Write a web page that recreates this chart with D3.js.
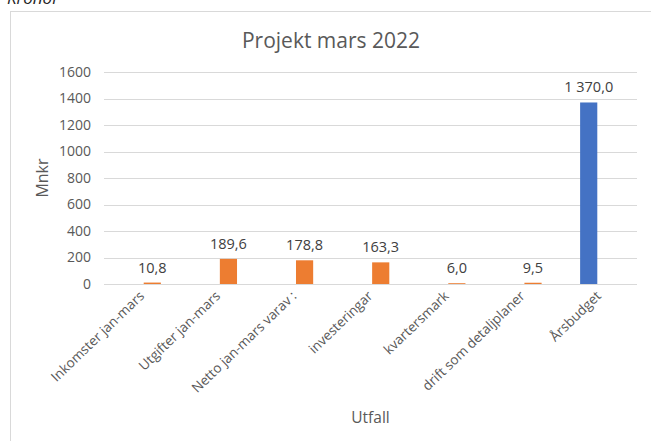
<!DOCTYPE html>
<html>
<head>
<meta charset="utf-8">
<script src="https://cdn.jsdelivr.net/npm/d3@7"></script>
<style>
  body { margin: 0; background: #fff; }
  text { font-family: "Open Sans", "Noto Sans", sans-serif; }
</style>
</head>
<body>
<div id="chart"></div>
<script>
const categories = ['Inkomster jan-mars', 'Utgifter jan-mars', 'Netto jan-mars varav :',
  'investeringar', 'kvartersmark', 'drift som detaljplaner', 'Årsbudget'];
const values = [10.8, 189.6, 178.8, 163.3, 6.0, 9.5, 1370.0];
// which series each bar belongs to (Excel put them in two series)
const seriesOf = ['utfall', 'utfall', 'utfall', 'utfall', 'utfall', 'utfall', 'budget'];
const seriesNames = ['budget', 'utfall'];
const seriesColors = { budget: '#4472C4', utfall: '#ED7D31' };
const yTicks = [0, 200, 400, 600, 800, 1000, 1200, 1400, 1600];

const width = 651;
const height = 441;
const plot = { left: 104, right: 637, top: 72, bottom: 284 };

const svg = d3.select('#chart').append('svg')
  .attr('width', width)
  .attr('height', height);

// Italic header above the chart, mostly cut off
svg.append('text')
  .attr('x', 7)
  .attr('y', 4)
  .attr('font-size', 17)
  .attr('font-style', 'italic')
  .attr('fill', '#262626')
  .text('Kronor');

// chart frame
svg.append('rect')
  .attr('x', 10.5)
  .attr('y', 11.5)
  .attr('width', 700)
  .attr('height', 500)
  .attr('fill', 'none')
  .attr('stroke', '#d9d9d9');

const x = d3.scaleBand()
  .domain(categories)
  .range([plot.left, plot.right]);

const xSub = d3.scaleBand()
  .domain(seriesNames)
  .range([x.bandwidth() * 0.21, x.bandwidth() * 0.79])
  .padding(0.16);

const y = d3.scaleLinear()
  .domain([0, 1600])
  .range([plot.bottom, plot.top]);

// gridlines
svg.append('g')
  .selectAll('line')
  .data(yTicks)
  .enter()
  .append('line')
    .attr('x1', plot.left)
    .attr('x2', plot.right)
    .attr('y1', d => Math.round(y(d)) + 0.5)
    .attr('y2', d => Math.round(y(d)) + 0.5)
    .attr('stroke', '#d9d9d9');

// y axis labels
const yAxis = svg.append('g')
  .attr('transform', `translate(${plot.left - 13},0)`)
  .call(d3.axisLeft(y).tickValues(yTicks).tickFormat(d3.format('d')).tickSize(0).tickPadding(0));
yAxis.select('.domain').remove();
yAxis.selectAll('text')
  .attr('font-size', 14)
  .attr('fill', '#595959')
  .attr('font-family', '"Open Sans", sans-serif');

// bars
const bars = svg.append('g')
  .selectAll('g')
  .data(categories.map((c, i) => ({ c, v: values[i], s: seriesOf[i] })))
  .enter()
  .append('g');

bars.append('rect')
  .attr('x', d => x(d.c) + xSub(d.s))
  .attr('y', d => y(d.v))
  .attr('width', xSub.bandwidth())
  .attr('height', d => y(0) - y(d.v))
  .attr('fill', d => seriesColors[d.s]);

bars.append('text')
  .attr('x', d => x(d.c) + xSub(d.s) + xSub.bandwidth() / 2)
  .attr('y', d => y(d.v) - 10)
  .attr('text-anchor', 'middle')
  .attr('font-size', 14.5)
  .attr('fill', '#404040')
  .text(d => d3.format(',.1f')(d.v).replace(',', ' ').replace('.', ','));

// x labels, rotated
svg.append('g')
  .selectAll('text')
  .data(categories)
  .enter()
  .append('text')
    .attr('transform', d => `translate(${x(d) + x.bandwidth() / 2 + 3},${plot.bottom + 13}) rotate(-44)`)
    .attr('text-anchor', 'end')
    .attr('font-size', 13.5)
    .attr('fill', '#595959')
    .text(d => d);

// title
svg.append('text')
  .attr('x', 331)
  .attr('y', 48)
  .attr('text-anchor', 'middle')
  .attr('font-size', 21)
  .attr('fill', '#595959')
  .text('Projekt mars 2022');

// axis titles
svg.append('text')
  .attr('transform', `translate(48,${(plot.top + plot.bottom) / 2}) rotate(-90)`)
  .attr('text-anchor', 'middle')
  .attr('font-size', 16)
  .attr('fill', '#595959')
  .text('Mnkr');

svg.append('text')
  .attr('x', (plot.left + plot.right) / 2)
  .attr('y', 423)
  .attr('text-anchor', 'middle')
  .attr('font-size', 15.5)
  .attr('fill', '#595959')
  .text('Utfall');
</script>
</body>
</html>
